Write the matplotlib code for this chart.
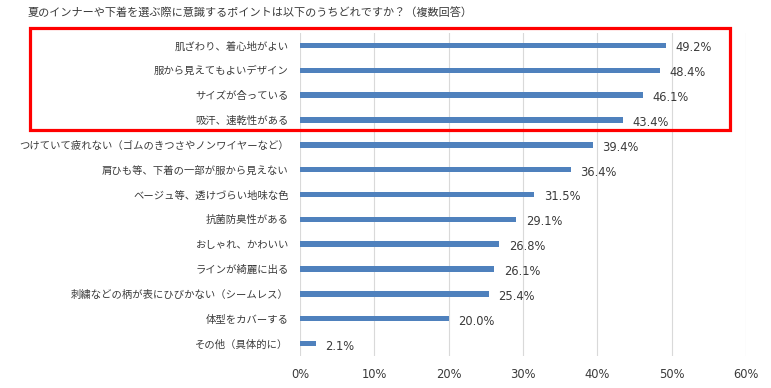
import matplotlib.pyplot as plt
import matplotlib.transforms as mtransforms
from matplotlib.patches import Rectangle
import numpy as np

plt.rcParams['font.family'] = ['Noto Sans CJK JP', 'DejaVu Sans']

# --- Data ---
title = "夏のインナーや下着を選ぶ際に意識するポイントは以下のうちどれですか？（複数回答）"
categories = [
    "肌ざわり、着心地がよい",
    "服から見えてもよいデザイン",
    "サイズが合っている",
    "吸汗、速乾性がある",
    "つけていて疲れない（ゴムのきつさやノンワイヤーなど）",
    "肩ひも等、下着の一部が服から見えない",
    "ベージュ等、透けづらい地味な色",
    "抗菌防臭性がある",
    "おしゃれ、かわいい",
    "ラインが綺麗に出る",
    "刺繍などの柄が表にひびかない（シームレス）",
    "体型をカバーする",
    "その他（具体的に）",
]
values = [49.2, 48.4, 46.1, 43.4, 39.4, 36.4, 31.5, 29.1, 26.8, 26.1, 25.4, 20.0, 2.1]
xticks = [0, 10, 20, 30, 40, 50, 60]

BAR = "#4f81bd"
TEXT = "#3a3a3a"

# --- Plot ---
fig = plt.figure(figsize=(7.71, 3.88), dpi=100)
ax = fig.add_axes([0.389, 0.0825, 0.5786, 0.8325])

y = np.arange(len(categories))
ax.barh(y, values, height=0.22, color=BAR, zorder=3)

for yi, v in zip(y, values):
    ax.text(v + 1.3, yi + 0.1, f"{v:.1f}%", fontsize=8.3, color=TEXT,
            va="center", ha="left", family="DejaVu Sans")

ax.set_xlim(0, 60)
ax.set_ylim(len(categories) - 0.5, -0.5)
ax.set_xticks(xticks)
ax.set_xticklabels([f"{t}%" for t in xticks], fontsize=8.3, color=TEXT,
                   family="DejaVu Sans")
ax.set_yticks(y)
ax.set_yticklabels(categories, fontsize=7.45, color=TEXT)
# category labels sit a little above their bars
offset = mtransforms.ScaledTranslation(0, 0.05, fig.dpi_scale_trans)
for lbl in ax.get_yticklabels():
    lbl.set_transform(lbl.get_transform() + offset)

ax.tick_params(axis="both", length=0)
ax.tick_params(axis="y", pad=8)
ax.tick_params(axis="x", pad=9)
ax.grid(axis="x", color="#d9d9d9", linewidth=0.8, zorder=0)
for s in ax.spines.values():
    s.set_visible(False)

fig.text(28 / 771, 1 - 13 / 388, title, fontsize=8, color=TEXT,
         ha="left", va="center")

# red highlight box around the top four answers
fig.patches.append(Rectangle((30 / 771, 1 - 130 / 388), 700 / 771, 102 / 388,
                             transform=fig.transFigure, fill=False,
                             edgecolor="#ff0000", linewidth=2.3, zorder=10))

fig.savefig("out.png", dpi=100)
